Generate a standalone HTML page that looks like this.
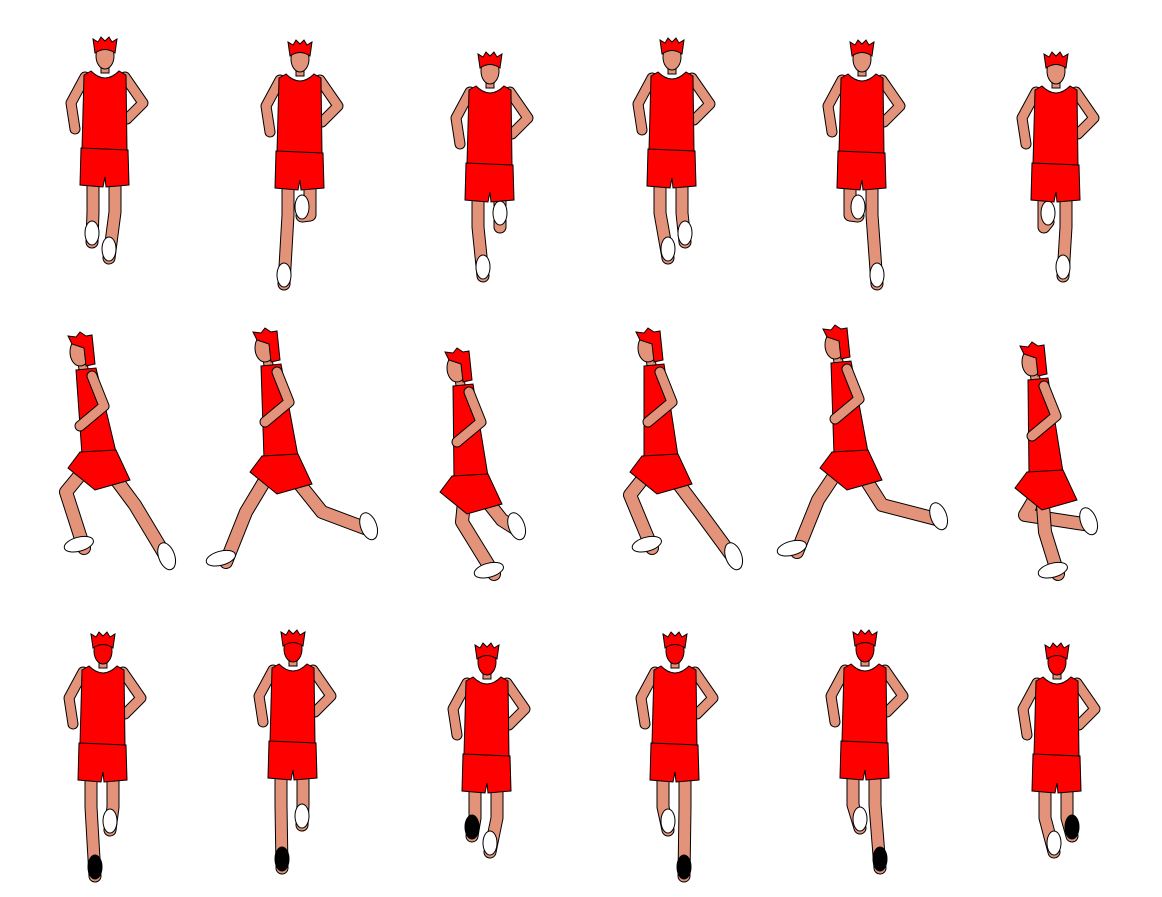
<!DOCTYPE html>
<html><head><meta charset="utf-8"><style>
html,body{margin:0;padding:0;background:#fff;width:1162px;height:897px;overflow:hidden}
svg{display:block}
</style></head><body>
<svg id="s" width="1162" height="897" viewBox="0 0 1162 897" xmlns="http://www.w3.org/2000/svg"></svg>
<script>
const frontPoses=[ // cx, top, leftFoot[x,y], rightFoot[x,y], row, blackShoe(0 none,1 left,2 right)
[105,37,[92,242],[109,258],1,0],[300,40,[284,284],[302,216],1,0],[490,52,[483,276],[500,222],1,0],
[672,38,[668,258],[685,242],1,0],[862,40,[858,216],[877,284],1,0],[1056,52,[1048,222],[1063,276],1,0],
[103,632,[95,876],[110,830],3,1],[293,630,[282,868],[302,825],3,1],[487,643,[472,836],[490,852],3,1],
[675,632,[668,830],[684,876],3,2],[865,630,[860,828],[880,868],3,2],[1057,643,[1054,852],[1072,836],3,2]];
const sidePoses=[ // head, hip, frontKnee, frontFoot, backKnee, backFoot
[[80,352],[100,458],[66,492],[84,548],[135,505],[168,560]],
[[265,348],[282,462],[246,512],[226,562],[322,512],[370,530]],
[[457,368],[472,482],[462,522],[494,574],[502,520],[518,530]],
[[648,348],[662,462],[630,495],[652,548],[702,515],[735,560]],
[[835,345],[852,458],[818,500],[797,552],[882,505],[940,520]],
[[1032,362],[1047,478],[1045,532],[1058,574],[1025,515],[1090,525]]];
const S=document.getElementById('s');const NS='http://www.w3.org/2000/svg';
const SK='#e3937a',RD='#ff0000';
function el(t,a,p){const e=document.createElementNS(NS,t);for(const k in a)e.setAttribute(k,a[k]);(p||S).appendChild(e);return e;}
function limb(g,pts,w){const d=pts.map(p=>p.join(',')).join(' ');
 el('polyline',{points:d,fill:'none',stroke:'#000','stroke-width':w+2,'stroke-linecap':'round','stroke-linejoin':'round'},g);
 el('polyline',{points:d,fill:'none',stroke:SK,'stroke-width':w,'stroke-linecap':'round','stroke-linejoin':'round'},g);}
function shoe(g,x,y,black){el('ellipse',{cx:x,cy:y-9,rx:7,ry:12,fill:black?'#000':'#fff',stroke:'#000','stroke-width':1},g);}
frontPoses.forEach((p,i)=>{const [cx,t,lf,rf,row,bs]=p;const g=el('g',{});
 
 
 const back=row===3;
 limb(g,[[cx-12,t+140],[cx-12,t+175],lf],11);
 limb(g,[[cx+10,t+140],[cx+10,t+175],rf],11);
 shoe(g,lf[0],lf[1],bs===1);shoe(g,rf[0],rf[1],bs===2);
 limb(g,[[cx-20,t+40],[cx-34,t+66],[cx-30,t+92]],9);
 limb(g,[[cx+20,t+40],[cx+38,t+66],[cx+22,t+82]],9);
 el('path',{d:`M${cx-14},${t+34} L${cx-21},${t+38} L${cx-23},${t+112} L${cx+22},${t+114} L${cx+21},${t+38} L${cx+14},${t+34} Q${cx},${t+48} ${cx-14},${t+34}Z`,fill:RD,stroke:'#000','stroke-width':1},g);
 el('path',{d:`M${cx-24},${t+111} L${cx+23},${t+113} L${cx+24},${t+148} L${cx+1},${t+150} L${cx},${t+140} L${cx-2},${t+150} L${cx-25},${t+148}Z`,fill:RD,stroke:'#000','stroke-width':1},g);
 el('rect',{x:cx-4,y:t+26,width:8,height:10,fill:SK,stroke:'#000','stroke-width':1},g);
 el('ellipse',{cx:cx,cy:t+19,rx:9,ry:13,fill:back?RD:SK,stroke:'#000','stroke-width':1},g);
 el('path',{d:`M${cx-10},${t+16} L${cx-12},${t+2} L${cx-7},${t+5} L${cx-4},${t} L${cx},${t+4} L${cx+4},${t} L${cx+7},${t+5} L${cx+12},${t+2} L${cx+10},${t+16} Q${cx},${t+9} ${cx-10},${t+16}Z`,fill:RD,stroke:'#000','stroke-width':1},g);
});
sidePoses.forEach((p,i)=>{const [h,hip,fk,ff,bk,bf]=p;const g=el('g',{});
 
 
 const sh=[h[0]+8,h[1]+22];
 limb(g,[hip,bk,bf],12);
 el('ellipse',{cx:bf[0],cy:bf[1]-4,rx:8,ry:14,fill:'#fff',stroke:'#000','stroke-width':1,transform:`rotate(-20 ${bf[0]} ${bf[1]})`},g);
 limb(g,[[hip[0]-6,hip[1]],fk,ff],12);
 el('ellipse',{cx:ff[0]-4,cy:ff[1]-5,rx:15,ry:7,fill:'#fff',stroke:'#000','stroke-width':1,transform:`rotate(-15 ${ff[0]} ${ff[1]})`},g);
 limb(g,[[h[0]+2,h[1]+8],[h[0]+4,h[1]+20]],8);
 el('path',{d:`M${sh[0]-12},${sh[1]-4} L${sh[0]+8},${sh[1]-6} L${hip[0]+16},${hip[1]-6} L${hip[0]-18},${hip[1]-3}Z`,fill:RD,stroke:'#000','stroke-width':1},g);
 el('path',{d:`M${hip[0]-20},${hip[1]-6} L${hip[0]+16},${hip[1]-8} L${hip[0]+30},${hip[1]+22} L${hip[0]-5},${hip[1]+32} L${hip[0]-32},${hip[1]+10}Z`,fill:RD,stroke:'#000','stroke-width':1},g);
 limb(g,[[sh[0]+4,sh[1]+2],[sh[0]+16,sh[1]+32],[sh[0]-8,sh[1]+52]],9);
 el('ellipse',{cx:h[0],cy:h[1],rx:10,ry:14,fill:SK,stroke:'#000','stroke-width':1},g);
 el('path',{d:`M${h[0]-8},${h[1]-8} L${h[0]-12},${h[1]-16} L${h[0]-4},${h[1]-15} L${h[0]},${h[1]-20} L${h[0]+6},${h[1]-16} L${h[0]+12},${h[1]-17} L${h[0]+15},${h[1]+12} L${h[0]+6},${h[1]+14} L${h[0]+4},${h[1]-4}Z`,fill:RD,stroke:'#000','stroke-width':1},g);
});
</script>
</body></html>
